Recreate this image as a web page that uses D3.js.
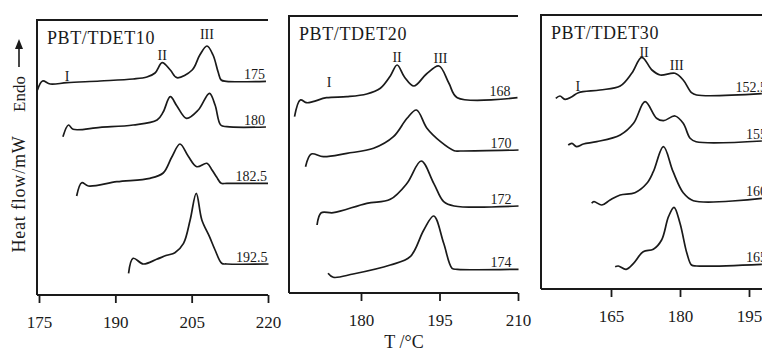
<!DOCTYPE html>
<html>
<head>
<meta charset="utf-8">
<script src="https://cdn.jsdelivr.net/npm/d3@7"></script>
<style>
  body { margin: 0; background: #fff; }
  svg { display: block; font-family: "Liberation Serif", "DejaVu Serif", serif; }
</style>
</head>
<body>
<div id="chart"></div>
<script>
// DSC heating traces, [T (°C), heat flow (a.u., endo up)]
// PBT/TDET10, Tc = 175, 180, 182.5, 192.5
var tdet10_175 = [[174.7,205],[175.7,214],[177.2,211],[180.5,212.3],[187,214],[193.5,216],[196.2,218],[197.8,222],[199.2,232.3],[200.8,225],[202.1,217.3],[205.1,225],[206.6,240],[208,249],[209.2,240],[210.2,223],[210.8,215],[211.8,213.7],[219.6,213.7]];
var tdet10_180 = [[179.7,158.3],[180.8,170],[181.7,165.7],[187,167.7],[193.5,170],[198.2,175],[199.4,183],[200.8,198.3],[202.1,189],[204,176.7],[206.3,185],[208.5,201.7],[209.6,190],[210.7,170],[211.9,168.3],[219.6,168]];
var tdet10_1825 = [[182.4,99],[183.4,112.3],[184.7,109],[190.3,113.3],[196.8,116.7],[199.4,122],[201.1,138],[202.7,151],[204.3,139],[206,128.3],[208,131.7],[209,125],[209.9,118],[210.8,111.7],[211.9,111.7],[220,111.7]];
var tdet10_1925 = [[192.6,21.7],[193.5,36.7],[195.5,31],[198.1,35.7],[200.1,39.7],[201.7,42.3],[203.4,51.7],[204.7,75],[205.9,101.7],[207,75],[208.5,58.3],[209.6,45],[210.9,31.7],[211.9,31],[220.1,31]];

// PBT/TDET20, Tc = 168, 170, 172, 174
var tdet20_168 = [[167.3,176.3],[168.4,193],[169.6,190.3],[170.8,191.3],[173.4,195.3],[177.3,196.3],[181.1,199],[183.7,204.7],[185.6,217],[186.9,228],[188.3,216],[190.1,207],[192.5,219],[194.9,227],[196.8,209.7],[198.4,195.3],[209.9,195.3]];
var tdet20_170 = [[169.4,126.3],[170.5,139],[172.8,136.3],[177.3,139.7],[182.4,144.7],[186.2,156.3],[188.8,174.7],[190.6,183],[192.6,164.7],[195.2,151.3],[197.8,142.3],[199,142],[210.1,143]];
var tdet20_172 = [[171.6,68],[172.4,80.3],[174.7,80.3],[181.1,89.7],[185.6,93.7],[188.8,109.7],[191.5,132],[193.9,109.7],[195.8,91.3],[197.8,87],[210.1,87]];
var tdet20_174 = [[173.7,19.7],[174.7,15.7],[178.5,19],[185.6,28],[189.4,36.3],[192,63],[193.9,77],[195.8,49.7],[197.4,24.7],[198.4,23.7],[210.1,23.7]];

// PBT/TDET30, Tc = 152.5, 155, 160, 165
var tdet30_1525 = [[153,190.7],[153.9,193],[155,189.7],[156.5,192.3],[157.9,196.3],[162.6,199],[167,203],[169.5,215.7],[171.7,231.7],[173.9,219],[175.7,214],[178.9,215.7],[180.7,209],[182.5,196.3],[183.6,194],[197.8,195.3]];
var tdet30_155 = [[155.7,144],[156.5,145.7],[157.5,142.3],[159,145],[161.9,147.3],[167,154],[169.9,165.7],[172.4,187.3],[174.9,170.7],[176.4,168.3],[178.9,173],[180.7,165.7],[182.2,150.7],[183.5,147.3],[197.8,148]];
var tdet30_160 = [[160.8,85.7],[161.3,87.3],[163,84],[164.8,89],[167,94],[170.2,96.3],[172.8,105.7],[174.2,117.3],[176.4,142.3],[178.5,117.3],[180.7,96.3],[182.9,88.3],[197.8,90.7]];
var tdet30_165 = [[165.9,22.3],[166.6,23],[168.3,19.7],[169.9,25.7],[172,37.3],[174.2,39.7],[176,49],[177.5,72.3],[178.7,81.7],[180,65.7],[181.5,35.7],[182.5,24],[183.6,23],[197.8,24.7]];

var panelTitles = ["PBT/TDET10", "PBT/TDET20", "PBT/TDET30"];
var panelTicks = [[175, 190, 205, 220], [180, 195, 210], [165, 180, 195]];
var curveLabels = [["175", "180", "182.5", "192.5"], ["168", "170", "172", "174"], ["152.5", "155", "160", "165"]];
var curveSets = [
  [tdet10_175, tdet10_180, tdet10_1825, tdet10_1925],
  [tdet20_168, tdet20_170, tdet20_172, tdet20_174],
  [tdet30_1525, tdet30_155, tdet30_160, tdet30_165]
];
// melting peak marks: [label, T, heat flow]
var peakMarks = [
  [["I", 180.5, 214.3], ["II", 199.2, 235], ["III", 208, 256]],
  [["I", 173.9, 206.3], ["II", 186.9, 231], ["III", 195.2, 230.3]],
  [["I", 157.8, 198.3], ["II", 172.2, 232.3], ["III", 179.3, 219]]
];

// layout of the three frames (pixels)
var layout = [
  { left: 37, right: 268, top: 20, bottom: 295, x0: 39, x1: 268, labelDx: -1 },
  { left: 289, right: 518, top: 16, bottom: 293, x0: 361, x1: 518, labelDx: -7 },
  { left: 541, right: 775, top: 15, bottom: 289, x0: 611, x1: 749, labelDx: 5 }
];

var W = 762, H = 351;
var svg = d3.select("#chart").append("svg")
  .attr("width", W)
  .attr("height", H);

var ink = "#1a1a1a";

var line = d3.line()
  .curve(d3.curveCatmullRom.alpha(0.5));

layout.forEach(function (p, i) {
  var ticks = panelTicks[i];
  var x = d3.scaleLinear()
    .domain([ticks[0], ticks[ticks.length - 1]])
    .range([p.x0, p.x1]);
  var y = d3.scaleLinear()
    .domain([0, 280])
    .range([p.bottom, p.bottom - 280]);

  var g = svg.append("g");

  // frame: top and left edges
  g.append("path")
    .attr("d", "M" + p.right + "," + p.top + "H" + p.left + "V" + p.bottom)
    .attr("fill", "none")
    .attr("stroke", ink)
    .attr("stroke-width", 2);

  // bottom axis with ticks hanging down
  var axis = g.append("g")
    .attr("transform", "translate(0," + p.bottom + ")")
    .call(d3.axisBottom(x).tickValues(ticks).tickSize(8).tickSizeOuter(0).tickFormat(d3.format("d")));
  axis.select(".domain").remove();
  axis.append("line")
    .attr("x1", p.left).attr("x2", p.right)
    .attr("stroke", ink).attr("stroke-width", 2);
  axis.selectAll(".tick line").attr("stroke", ink).attr("stroke-width", 1.8);
  axis.selectAll(".tick text")
    .attr("y", 33)
    .attr("dy", 0)
    .attr("fill", ink)
    .style("font-family", "Liberation Serif")
    .style("font-size", "17px");

  // title
  g.append("text")
    .attr("x", p.left + 10)
    .attr("y", p.top + 24)
    .attr("fill", ink)
    .style("font-size", "18px")
    .style("letter-spacing", "0.6px")
    .text(panelTitles[i]);

  // traces
  curveSets[i].forEach(function (data, k) {
    g.append("path")
      .datum(data.map(function (d) { return [x(d[0]), y(d[1])]; }))
      .attr("d", line)
      .attr("fill", "none")
      .attr("stroke", ink)
      .attr("stroke-width", 1.7);

    var last = data[data.length - 1];
    g.append("text")
      .attr("x", x(last[0]) + p.labelDx)
      .attr("y", y(last[1]) - 2)
      .attr("text-anchor", "end")
      .attr("fill", ink)
      .style("font-size", "14px")
      .text(curveLabels[i][k]);
  });

  // peak marks
  peakMarks[i].forEach(function (m) {
    g.append("text")
      .attr("x", x(m[1]))
      .attr("y", y(m[2]))
      .attr("text-anchor", "middle")
      .attr("fill", ink)
      .style("font-size", "14px")
      .text(m[0]);
  });
});

// x title
svg.append("text")
  .attr("x", 404)
  .attr("y", 348)
  .attr("text-anchor", "middle")
  .attr("fill", ink)
  .style("font-size", "18px")
  .text("T /°C");

// y title and endo arrow
svg.append("text")
  .attr("transform", "translate(25,194) rotate(-90)")
  .attr("text-anchor", "middle")
  .attr("fill", ink)
  .style("font-size", "18px")
  .style("letter-spacing", "0.8px")
  .text("Heat flow/mW");

svg.append("text")
  .attr("transform", "translate(25,94) rotate(-90)")
  .attr("text-anchor", "middle")
  .attr("fill", ink)
  .style("font-size", "17px")
  .text("Endo");

svg.append("line")
  .attr("x1", 19).attr("x2", 19)
  .attr("y1", 67).attr("y2", 46)
  .attr("stroke", ink).attr("stroke-width", 1.6);
svg.append("path")
  .attr("d", "M19,39L15,49L23,49Z")
  .attr("fill", ink);
</script>
</body>
</html>
